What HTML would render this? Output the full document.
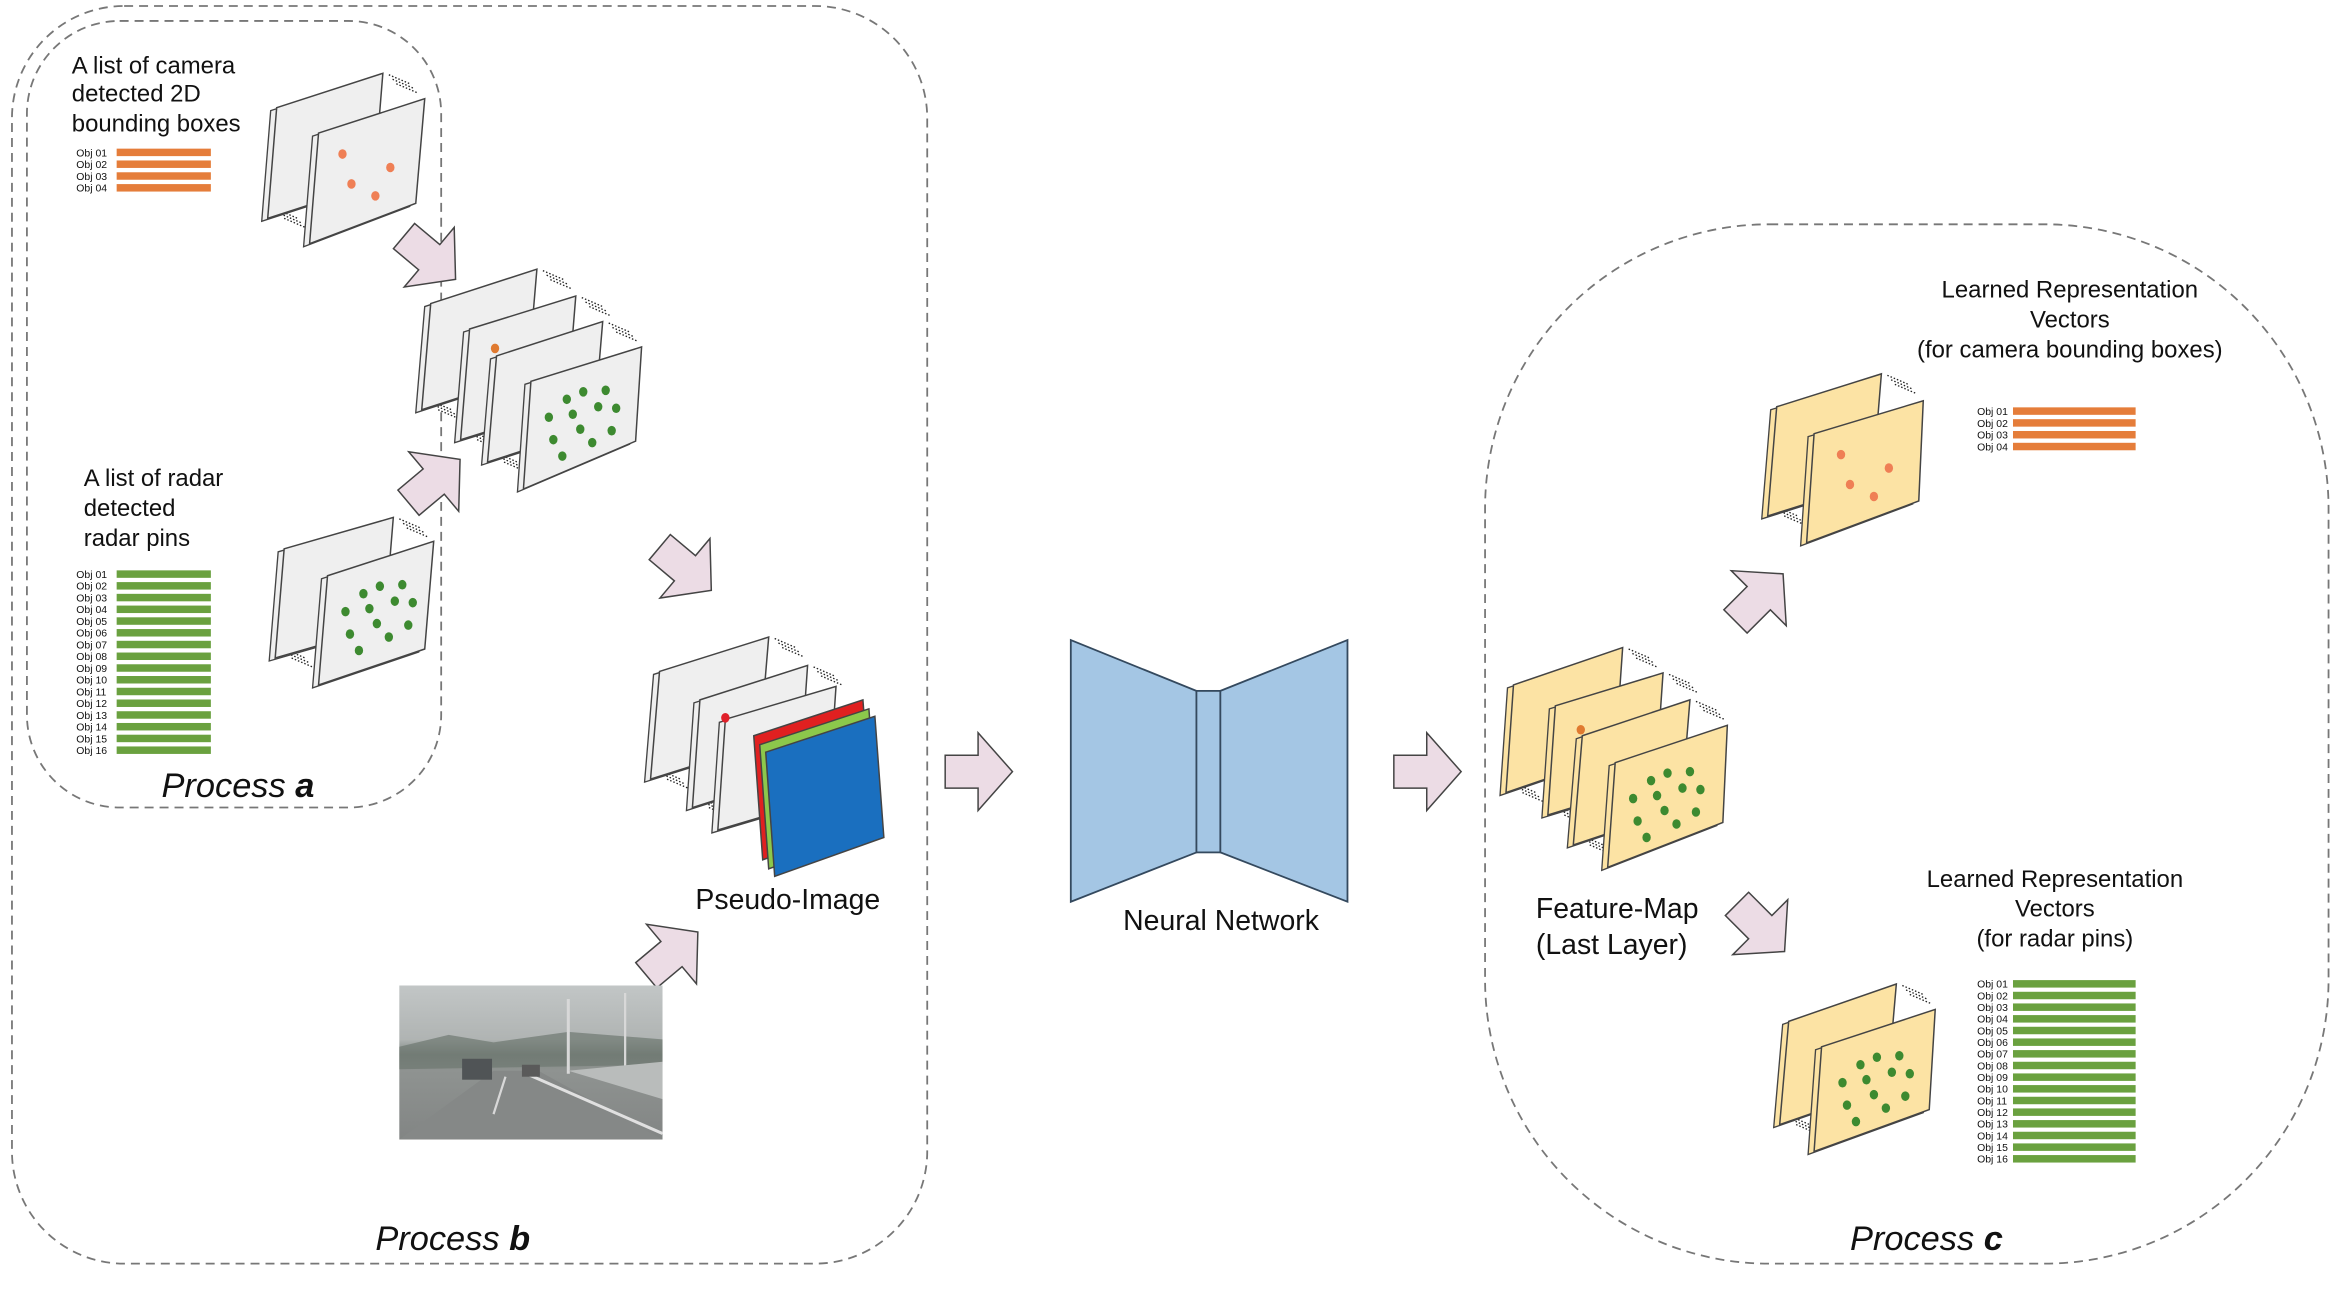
<!DOCTYPE html>
<html><head><meta charset="utf-8"><style>
html,body{margin:0;padding:0;background:#fff;width:2345px;height:1294px;overflow:hidden}
svg{display:block}
text{font-family:"Liberation Sans",Arial,sans-serif;fill:#111}
</style></head><body>
<svg id="s" width="2345" height="1294" viewBox="0 0 1568 865.3" preserveAspectRatio="none" xmlns="http://www.w3.org/2000/svg">
<defs>
<linearGradient id="ph" x1="0" y1="0" x2="0" y2="1">
<stop offset="0" stop-color="#c2c6c6"/><stop offset="0.35" stop-color="#b0b4b3"/><stop offset="0.45" stop-color="#7d8580"/><stop offset="0.55" stop-color="#8f9391"/><stop offset="1" stop-color="#828584"/>
</linearGradient>
</defs>
<g fill="none" stroke="#777" stroke-width="1.2" stroke-dasharray="6,4">
<rect x="8" y="4" width="612" height="841" rx="75"/>
<rect x="18" y="14" width="277" height="526" rx="62"/>
<rect x="993" y="150" width="564" height="695" rx="190"/>
</g>
<g id="g"></g>
<!-- photo -->
<rect x="267" y="659" width="176" height="103" fill="url(#ph)"/>
<polygon points="267,700 300,692 330,697 380,690 443,695 443,712 267,715" fill="#6d7771" opacity="0.7"/>
<polygon points="267,762 330,716 360,716 443,762" fill="#858887"/>
<line x1="352" y1="718" x2="443" y2="758" stroke="#e0e0e0" stroke-width="2"/>
<line x1="338" y1="720" x2="330" y2="745" stroke="#d8d8d8" stroke-width="1.5"/>
<rect x="309" y="708" width="20" height="14" fill="#505456"/>
<rect x="349" y="712" width="12" height="8" fill="#5a5a5a"/>
<line x1="380" y1="668" x2="380" y2="718" stroke="#d8d8d8" stroke-width="2"/>
<line x1="418" y1="664" x2="418" y2="716" stroke="#d8d8d8" stroke-width="1.5"/>
<polygon points="380,716 443,710 443,735" fill="#b9bcbb"/>
<!-- neural network -->
<g fill="#a4c6e4" stroke="#34495e" stroke-width="1.2">
<polygon points="716,428 800,462 800,570 716,603"/>
<rect x="800" y="462" width="16" height="108"/>
<polygon points="816,462 901,428 901,603 816,570"/>
</g>
<!-- texts -->
<g font-size="16">
<text x="48" y="49">A list of camera</text>
<text x="48" y="68">detected 2D</text>
<text x="48" y="88">bounding boxes</text>
<text x="56" y="325">A list of radar</text>
<text x="56" y="345">detected</text>
<text x="56" y="365">radar pins</text>
<text x="1384" y="199" text-anchor="middle">Learned Representation</text>
<text x="1384" y="219" text-anchor="middle">Vectors</text>
<text x="1384" y="239" text-anchor="middle">(for camera bounding boxes)</text>
<text x="1374" y="593" text-anchor="middle">Learned Representation</text>
<text x="1374" y="613" text-anchor="middle">Vectors</text>
<text x="1374" y="633" text-anchor="middle">(for radar pins)</text>
</g>
<g font-size="19">
<text x="465" y="608">Pseudo-Image</text>
<text x="751" y="622">Neural Network</text>
<text x="1027" y="614">Feature-Map</text>
<text x="1027" y="638">(Last Layer)</text>
</g>
<g font-size="23" font-style="italic">
<text x="108" y="533">Process <tspan font-weight="bold">a</tspan></text>
<text x="251" y="836">Process <tspan font-weight="bold">b</tspan></text>
<text x="1237" y="836">Process <tspan font-weight="bold">c</tspan></text>
</g>
<g id="lists" font-size="7"></g>
</svg>
<script>
var NS="http://www.w3.org/2000/svg",G=document.getElementById('g'),L=document.getElementById('lists');
function el(t,a,p){var e=document.createElementNS(NS,t);for(var k in a)e.setAttribute(k,a[k]);(p||G).appendChild(e);return e;}
function poly(p,f,sw){return el('polygon',{points:p.map(function(q){return q.join(',')}).join(' '),fill:f,stroke:'#444','stroke-width':sw||1});}
function full(p){if(p.length==4)return p;return [p[0],p[1],[p[1][0]+p[2][0]-p[0][0],p[1][1]+p[2][1]-p[0][1]],p[2]];}
function sh(p,dx,dy){return p.map(function(q){return [q[0]+dx,q[1]+dy]});}
function dots(a,b){for(var i=0;i<3;i++){el('line',{x1:a[0]+i*2.5,y1:a[1]+i*3,x2:b[0]+i*2.5,y2:b[1]+i*3,stroke:'#222','stroke-width':0.9,'stroke-dasharray':'1,1.3'});}}
function stack(planes,fill){
  planes=planes.map(full);
  for(var i=0;i<planes.length;i++){
    var p=planes[i];
    if(i<planes.length-1){
      dots([p[1][0]+4,p[1][1]+1],[p[1][0]+18,p[1][1]+7]);
      dots([p[3][0]+6,p[3][1]-6],[p[3][0]+20,p[3][1]]);
    }
    poly(sh(p,-4,2),fill,0.9);
    poly(p,fill,1);
  }
}
function dot(x,y,c){el('ellipse',{cx:x,cy:y,rx:2.8,ry:3.2,fill:c});}
var gp=[[24,12],[35,7],[50,6],[12,24],[45,17],[57,18],[33,32],[54,33],[15,39],[41,41],[21,50],[28,22]];
var op=[[16,14],[48,23],[22,34],[38,42]];
function gd(o){gp.forEach(function(q){dot(o[0]+q[0],o[1]+q[1],'#3d8a30')});}
function od(o){op.forEach(function(q){dot(o[0]+q[0],o[1]+q[1],'#ef7f55')});}
var W='#efefef',Y='#fce3a4';
stack([[[185,72],[256,49],[179,146]],[[213,89],[284,66],[278,136],[207,163]]],W);od([213,89]);
stack([[[288,203],[359,180],[282,274]],[[314,220],[385,198],[308,294]],[[332,238],[403,215],[326,309]],[[355,255],[429,232],[425,295],[350,327]]],W);
dot(331,233,'#e07a30');gd([355,255]);
stack([[[190,367],[263,346],[184,440]],[[219,385],[290,362],[284,434],[213,458]]],W);gd([219,385]);
stack([[[441,449],[514,426],[435,521]],[[468,468],[540,445],[463,540]],[[485,481],[559,459],[480,555]]],W);
dot(485,480,'#e0202a');
poly([[504,492],[577,468],[583,549],[510,575]],'#e02020',1);
poly([[508,498],[581,474],[587,555],[514,581]],'#8cc84b',1);
poly([[512,503],[585,479],[591,560],[518,586]],'#1a6fbf',1);
stack([[[1012,458],[1085,433],[1007,530]],[[1040,472],[1112,450],[1035,545]],[[1058,492],[1130,468],[1052,565]],[[1080,510],[1155,485],[1152,550],[1075,580]]],Y);
dot(1057,488,'#e07a30');gd([1080,510]);
stack([[[1188,272],[1258,250],[1182,345]],[[1213,290],[1286,268],[1283,335],[1208,363]]],Y);od([1215,290]);
stack([[[1196,683],[1268,658],[1190,752]],[[1218,700],[1294,675],[1290,742],[1213,770]]],Y);gd([1220,700]);
function arrow(cx,cy,rot){var g=el('g',{transform:'translate('+cx+','+cy+') rotate('+rot+')'});
 el('polygon',{points:'-22,-11 0,-11 0,-26 23,0 0,26 0,11 -22,11',fill:'#ecdce5',stroke:'#444','stroke-width':1},g);}
arrow(654,516,0);arrow(954,516,0);
arrow(287,172,40);arrow(290,322,-40);arrow(458,380,40);arrow(449,638,-40);
arrow(1176,400,-45);arrow(1177,620,45);
function list(x,bx,bw,y0,step,n,c){for(var i=0;i<n;i++){var y=y0+i*step;var t=el('text',{x:x,y:y+2.5},L);t.textContent='Obj '+(i<9?'0':'')+(i+1);
 el('rect',{x:bx,y:y-2.6,width:bw,height:5,fill:c},L);}}
list(51,78,63,102,7.9,4,'#e57d3a');
list(51,78,63,384,7.85,16,'#6aa13f');
list(1322,1346,82,275,7.9,4,'#e57d3a');
list(1322,1346,82,658,7.8,16,'#6aa13f');
</script>
</body></html>
